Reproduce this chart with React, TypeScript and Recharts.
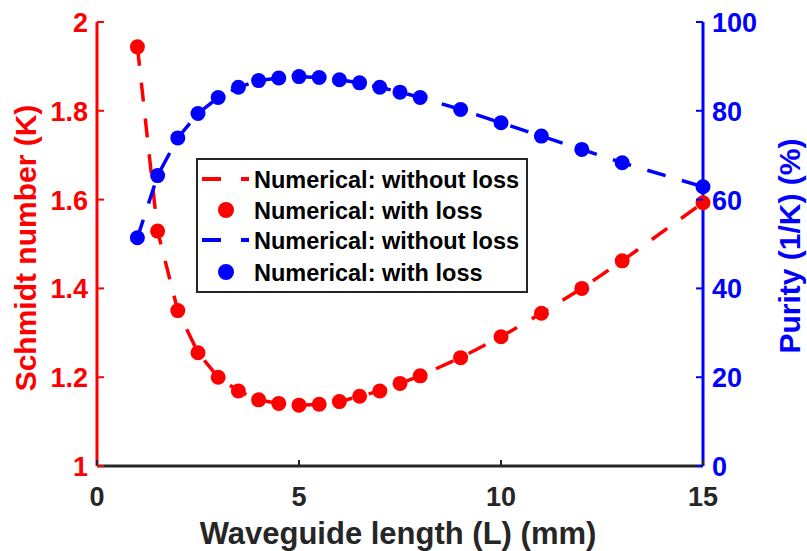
import React from 'react';
import { ComposedChart, Line, Scatter, XAxis, YAxis, Legend } from 'recharts';

const lengths = [1, 1.5, 2, 2.5, 3, 3.5, 4, 4.5, 5, 5.5, 6, 6.5, 7, 7.5, 8, 9, 10, 11, 12, 13, 15];
const schmidtWithoutLoss = [1.944, 1.529, 1.35, 1.255, 1.2, 1.169, 1.149, 1.141, 1.137, 1.139, 1.145, 1.157, 1.169, 1.186, 1.203, 1.244, 1.291, 1.344, 1.4, 1.462, 1.593];
const schmidtWithLoss = [1.944, 1.529, 1.35, 1.255, 1.2, 1.169, 1.149, 1.141, 1.137, 1.139, 1.145, 1.157, 1.169, 1.186, 1.203, 1.244, 1.291, 1.344, 1.4, 1.462, 1.593];
const purityWithoutLoss = [51.4, 65.4, 73.9, 79.4, 83.0, 85.3, 86.8, 87.4, 87.7, 87.5, 87.0, 86.3, 85.3, 84.2, 83.0, 80.3, 77.3, 74.3, 71.3, 68.3, 62.9];
const purityWithLoss = [51.4, 65.4, 73.9, 79.4, 83.0, 85.3, 86.8, 87.4, 87.7, 87.5, 87.0, 86.3, 85.3, 84.2, 83.0, 80.3, 77.3, 74.3, 71.3, 68.3, 62.9];

const xTicks = [0, 5, 10, 15];
const leftTicks = [1, 1.2, 1.4, 1.6, 1.8, 2];
const rightTicks = [0, 20, 40, 60, 80, 100];
const legendLabels = ['Numerical: without loss', 'Numerical: with loss', 'Numerical: without loss', 'Numerical: with loss'];

const data = lengths.map((L, i) => ({
  L,
  kNo: schmidtWithoutLoss[i],
  kLoss: schmidtWithLoss[i],
  pNo: purityWithoutLoss[i],
  pLoss: purityWithLoss[i],
}));

const FONT = '"Liberation Sans", Arial, Helvetica, sans-serif';
const RED = '#ff0000';
const BLUE = '#0000ff';
const DARK = '#262626';

const LeftTick = (props: any) => {
  const { x, y, payload } = props;
  return (
    <g>
      <line x1={x} x2={x + 7} y1={y} y2={y} stroke={RED} strokeWidth={2} />
      <text x={x - 9} y={y + 10} textAnchor="end" fontFamily={FONT} fontWeight="bold" fontSize={27} fill={RED}>
        {String(payload.value)}
      </text>
    </g>
  );
};

const RightTick = (props: any) => {
  const { x, y, payload } = props;
  return (
    <g>
      <line x1={x} x2={x - 7} y1={y} y2={y} stroke={BLUE} strokeWidth={2} />
      <text x={x + 9} y={y + 10} textAnchor="start" fontFamily={FONT} fontWeight="bold" fontSize={27} fill={BLUE}>
        {String(payload.value)}
      </text>
    </g>
  );
};

const BottomTick = (props: any) => {
  const { x, y, payload } = props;
  return (
    <g>
      <line x1={x} x2={x} y1={y} y2={y - 6} stroke={DARK} strokeWidth={2} />
      <text x={x} y={y + 40} textAnchor="middle" fontFamily={FONT} fontWeight="bold" fontSize={27} fill={DARK}>
        {String(payload.value)}
      </text>
    </g>
  );
};

const TopTick = (props: any) => {
  const { x, y } = props;
  return <line x1={x} x2={x} y1={y} y2={y + 6} stroke={DARK} strokeWidth={2} />;
};

const redDot = (props: any) => <circle cx={props.cx} cy={props.cy} r={7.5} fill={RED} />;
const blueDot = (props: any) => <circle cx={props.cx} cy={props.cy} r={7.5} fill={BLUE} />;

const LegendBox = () => {
  const rows = [
    { type: 'line', color: RED },
    { type: 'dot', color: RED },
    { type: 'line', color: BLUE },
    { type: 'dot', color: BLUE },
  ];
  const rowY = [21, 52, 82, 114];
  return (
    <svg width={334} height={137} style={{ display: 'block' }}>
      <rect x={1} y={1} width={330} height={133} fill="#ffffff" stroke={DARK} strokeWidth={2} />
      {rows.map((r, i) => (
        <g key={i}>
          {r.type === 'line' ? (
            <line x1={6} x2={53} y1={rowY[i]} y2={rowY[i]} stroke={r.color} strokeWidth={4} strokeDasharray="19 20" />
          ) : (
            <circle cx={30} cy={rowY[i]} r={8} fill={r.color} />
          )}
          <text x={58} y={rowY[i] + 8.5} fontFamily={FONT} fontWeight="bold" fontSize={23.5} fill="#000000">
            {legendLabels[i]}
          </text>
        </g>
      ))}
    </svg>
  );
};

export default function App() {
  return (
    <div style={{ position: 'absolute', left: 0, top: 0, width: 807, height: 551, background: '#ffffff' }}>
      <ComposedChart width={807} height={551} data={data} margin={{ top: 22, right: 0, bottom: 0, left: 0 }}>
        <XAxis
          xAxisId="bottom"
          dataKey="L"
          type="number"
          domain={[0, 15]}
          ticks={xTicks}
          height={85}
          tickSize={0}
          tickMargin={0}
          tickLine={false}
          axisLine={{ stroke: DARK, strokeWidth: 3 }}
          tick={BottomTick}
          interval={0}
          label={() => (
            <text x={398} y={544} textAnchor="middle" fontFamily={FONT} fontWeight="bold" fontSize={31} fill={DARK}>
              Waveguide length (L) (mm)
            </text>
          )}
        />
        <XAxis
          xAxisId="top"
          orientation="top"
          type="number"
          dataKey="L"
          domain={[0, 15]}
          ticks={xTicks}
          height={0}
          tickSize={0}
          tickMargin={0}
          tickLine={false}
          axisLine={{ stroke: DARK, strokeWidth: 3 }}
          tick={TopTick}
          interval={0}
        />
        <YAxis
          yAxisId="left"
          orientation="left"
          type="number"
          domain={[1, 2]}
          ticks={leftTicks}
          width={97}
          tickSize={0}
          tickMargin={0}
          tickLine={false}
          axisLine={{ stroke: RED, strokeWidth: 3 }}
          tick={LeftTick}
          interval={0}
          label={() => (
            <text transform="translate(36,248) rotate(-90)" textAnchor="middle" fontFamily={FONT} fontWeight="bold" fontSize={30} fill={RED}>
              Schmidt number (K)
            </text>
          )}
        />
        <YAxis
          yAxisId="right"
          orientation="right"
          type="number"
          domain={[0, 100]}
          ticks={rightTicks}
          width={104}
          tickSize={0}
          tickMargin={0}
          tickLine={false}
          axisLine={{ stroke: BLUE, strokeWidth: 3 }}
          tick={RightTick}
          interval={0}
          label={() => (
            <text transform="translate(800,246) rotate(-90)" textAnchor="middle" fontFamily={FONT} fontWeight="bold" fontSize={30} fill={BLUE}>
              Purity (1/K) (%)
            </text>
          )}
        />
        <Legend
          layout="vertical"
          align="center"
          verticalAlign="middle"
          content={() => <LegendBox />}
          wrapperStyle={{ position: 'absolute', left: 196, top: 158, width: 334, height: 137 }}
        />
        <Line
          xAxisId="bottom"
          yAxisId="left"
          type="linear"
          dataKey="kNo"
          stroke={RED}
          strokeWidth={3.5}
          strokeDasharray="19 17"
          dot={false}
          activeDot={false}
          isAnimationActive={false}
        />
        <Scatter xAxisId="bottom" yAxisId="left" dataKey="kLoss" fill={RED} shape={redDot} isAnimationActive={false} />
        <Line
          xAxisId="bottom"
          yAxisId="right"
          type="linear"
          dataKey="pNo"
          stroke={BLUE}
          strokeWidth={3.5}
          strokeDasharray="19 17"
          dot={false}
          activeDot={false}
          isAnimationActive={false}
        />
        <Scatter xAxisId="bottom" yAxisId="right" dataKey="pLoss" fill={BLUE} shape={blueDot} isAnimationActive={false} />
      </ComposedChart>
    </div>
  );
}
